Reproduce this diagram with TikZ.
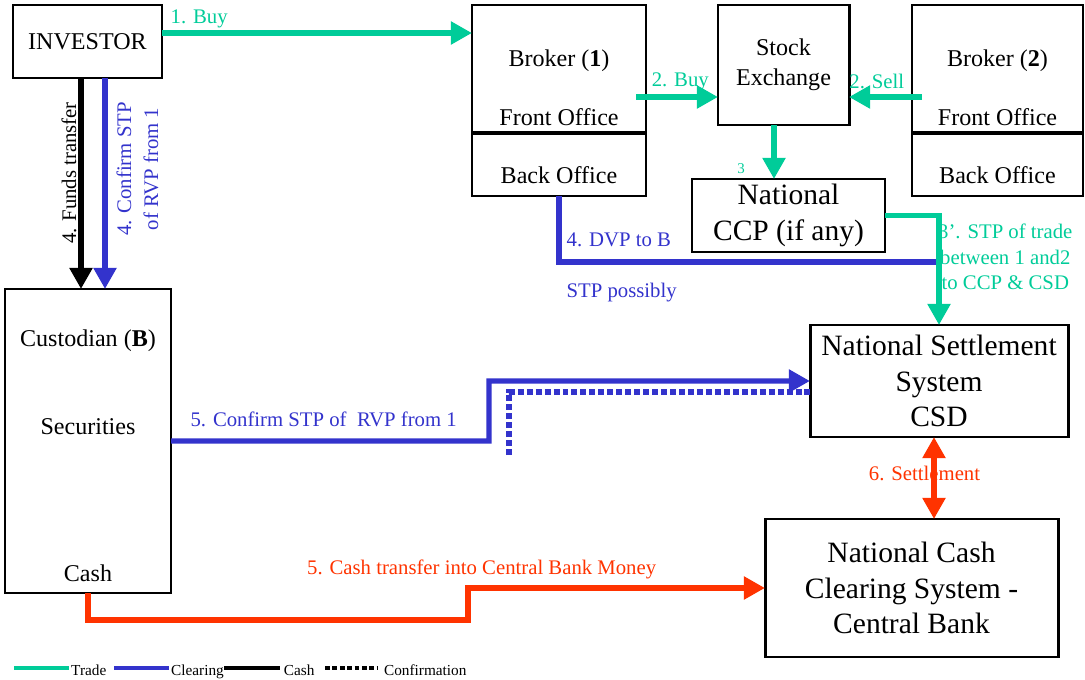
\documentclass[tikz,border=0pt]{standalone}
\usepackage{fontspec}
\setmainfont{Liberation Serif}
\usetikzlibrary{positioning,arrows.meta}
\definecolor{trd}{RGB}{0,204,153}
\definecolor{clr}{RGB}{51,51,204}
\definecolor{csh}{RGB}{255,51,0}
\tikzset{
  box/.style={draw,line width=1.7pt,inner sep=0pt,outer sep=0pt,align=center,font=\fontsize{13.7}{17}\selectfont},
  thinbox/.style={box,line width=1.1pt},
  bigbox/.style={box,font=\fontsize{16.8}{20.3}\selectfont},
  txt/.style={inner sep=0pt,font=\fontsize{13.7}{17}\selectfont},
  lbl/.style={inner sep=0pt,align=center,font=\fontsize{11.8}{14.5}\selectfont},
  legtxt/.style={inner sep=0pt,text=black,font=\fontsize{8.7}{10}\selectfont},
  arr/.style={-{Triangle[length=12pt,width=12.5pt]}},
  darr/.style={{Triangle[length=12pt,width=12.5pt]}-{Triangle[length=12pt,width=12.5pt]}},
  tradeln/.style={trd,line width=3.1pt},
  clearln/.style={clr,line width=3.1pt},
  cashln/.style={black,line width=3.1pt},
  moneyln/.style={csh,line width=3.1pt},
  confln/.style={clr,line width=3.1pt,dash pattern=on 3.4pt off 1.7pt},
  legdot/.style={black,dash pattern=on 2.8pt off 1.4pt}
}
\begin{document}
\begin{tikzpicture}
\useasboundingbox (0,0) rectangle (21.7,-13.6);

\node[box,minimum width=2.98cm,minimum height=1.46cm,anchor=north west] (inv) at (0.26,-0.1) {INVESTOR};
\node[thinbox,minimum width=3.48cm,minimum height=2.56cm,right=6.2cm of inv.north east,anchor=north west] (br1) {};
\node[thinbox,minimum width=3.48cm,minimum height=1.26cm,below=0cm of br1] (br1b) {};
\node[box,minimum width=2.62cm,minimum height=2.4cm,right=1.44cm of br1.north east,anchor=north west] (se) {Stock\\Exchange};
\node[thinbox,minimum width=3.42cm,minimum height=2.56cm,right=1.26cm of se.north east,anchor=north west] (br2) {};
\node[thinbox,minimum width=3.42cm,minimum height=1.26cm,below=0cm of br2] (br2b) {};
\node[bigbox,line width=0.9pt,minimum width=3.86cm,minimum height=1.46cm,below=1.08cm of se.south west,anchor=north west,xshift=-0.52cm] (ccp) {National\\CCP (if any)};
\node[box,minimum width=3.32cm,minimum height=6.08cm,below=4.22cm of inv.south west,anchor=north west,xshift=-0.16cm] (cust) {};
\node[bigbox,minimum width=5.16cm,minimum height=2.24cm,below=1.46cm of ccp.south west,anchor=north west,xshift=2.36cm] (csd) {National Settlement\\System\\CSD};
\node[bigbox,minimum width=5.86cm,minimum height=2.76cm,below=1.64cm of csd.south west,anchor=north west,xshift=-0.9cm] (ncb) {National Cash\\Clearing System -\\Central Bank};

\draw[line width=2.8pt] (br1.south west) -- (br1.south east);
\draw[line width=2.8pt] (br2.south west) -- (br2.south east);

\node[txt] (br1n) at ([yshift=-1.12cm]br1.north) {Broker (\textbf{1})};
\node[txt] (br1f) at ([yshift=.32cm]br1.south) {Front Office};
\node[txt] (br1o) at ([yshift=-.21cm]br1b.center) {Back Office};
\node[txt] (br2n) at ([yshift=-1.12cm]br2.north) {Broker (\textbf{2})};
\node[txt] (br2f) at ([yshift=.32cm]br2.south) {Front Office};
\node[txt] (br2o) at ([yshift=-.21cm]br2b.center) {Back Office};
\node[txt] (custn) at ([yshift=-1.04cm]cust.north) {Custodian (\textbf{B})};
\node[txt] (custs) at ([yshift=.28cm]cust.center) {Securities};
\node[txt] (custc) at ([yshift=.4cm]cust.south) {Cash};

\draw[tradeln,arr] ([yshift=.17cm]inv.east) -- ([yshift=.17cm]inv.east -| br1.west) node[lbl,pos=.12,above=1.5pt] {1. Buy};
\draw[tradeln,arr] ([xshift=-.2cm,yshift=-.56cm]br1.east) -- ([yshift=-.56cm]br1.east -| se.west) node[lbl,pos=.54,above=2pt] {2. Buy};
\draw[tradeln,arr] ([xshift=.2cm,yshift=-.56cm]br2.west) -- ([yshift=-.56cm]br2.west -| se.east) node[lbl,pos=.62,above=3pt] {2. Sell};
\draw[tradeln,arr] ([xshift=-.19cm]se.south) -- ([xshift=-.19cm]se.south |- ccp.north) node[lbl,pos=.8,left=15pt,font=\fontsize{8.5}{10}\selectfont] {3};

\coordinate (dvpend) at (18.74,-5.24);
\draw[clearln] (br1b.south) |- (dvpend) node[lbl,pos=.5,above right=7pt and 2.8pt] {4. DVP to B} node[lbl,pos=.5,below right=10.5pt and 2.8pt] {STP possibly};
\draw[tradeln,arr] (ccp.east) -| node[lbl,pos=.69,right=-2pt] {3'. STP of trade\\between 1 and2\\to CCP \& CSD} (csd.north);

\draw[cashln,arr] ([xshift=-.13cm]inv.south) -- ([xshift=-.13cm]inv.south |- cust.north);
\draw[clearln,arr] ([xshift=.35cm]inv.south) -- ([xshift=.35cm]inv.south |- cust.north);
\node[lbl,rotate=90] (fundlbl) at (1.38,-3.46) {4. Funds transfer};
\node[lbl,rotate=90,text=clr,font=\fontsize{11.8}{15.3}\selectfont] (rvplbl) at (2.75,-3.38) {4. Confirm STP\\of RVP from 1};

\coordinate (dotstart) at (10.18,-9.1);
\coordinate (confstep) at (9.78,-7.62);
\draw[confln] (dotstart) |- ([yshift=-.22cm]csd.west);
\draw[clearln,arr] (cust.east) -| node[lbl,pos=.24,above=6.8pt] {5. Confirm STP of\ \ RVP from 1} (confstep) -- (csd.west);

\coordinate (cashstep) at (9.36,-12.4);
\draw[moneyln,arr] (cust.south) |- (cashstep) |- node[lbl,pos=.523,above=3.8pt] {5. Cash transfer into Central Bank Money} (ncb.west);
\draw[moneyln,darr] ([xshift=-.1cm]csd.south) -- ([xshift=-.1cm]csd.south |- ncb.north) node[lbl,pos=.44,xshift=-5.4pt] {6. Settlement};

\foreach \x/\len/\sty/\gap/\txt in {0.28/1.1/tradeln/0pt/Trade,2.28/1.1/clearln/0pt/Clearing,4.48/1.12/cashln/1pt/Cash,6.5/1.04/legdot/2.8pt/Confirmation}
  \draw[\sty,line width=2.5pt] (\x,-13.36) -- ++(\len,0) node[legtxt,anchor=base west,xshift=\gap,yshift=-4.5pt] {\txt};
\end{tikzpicture}
\end{document}
